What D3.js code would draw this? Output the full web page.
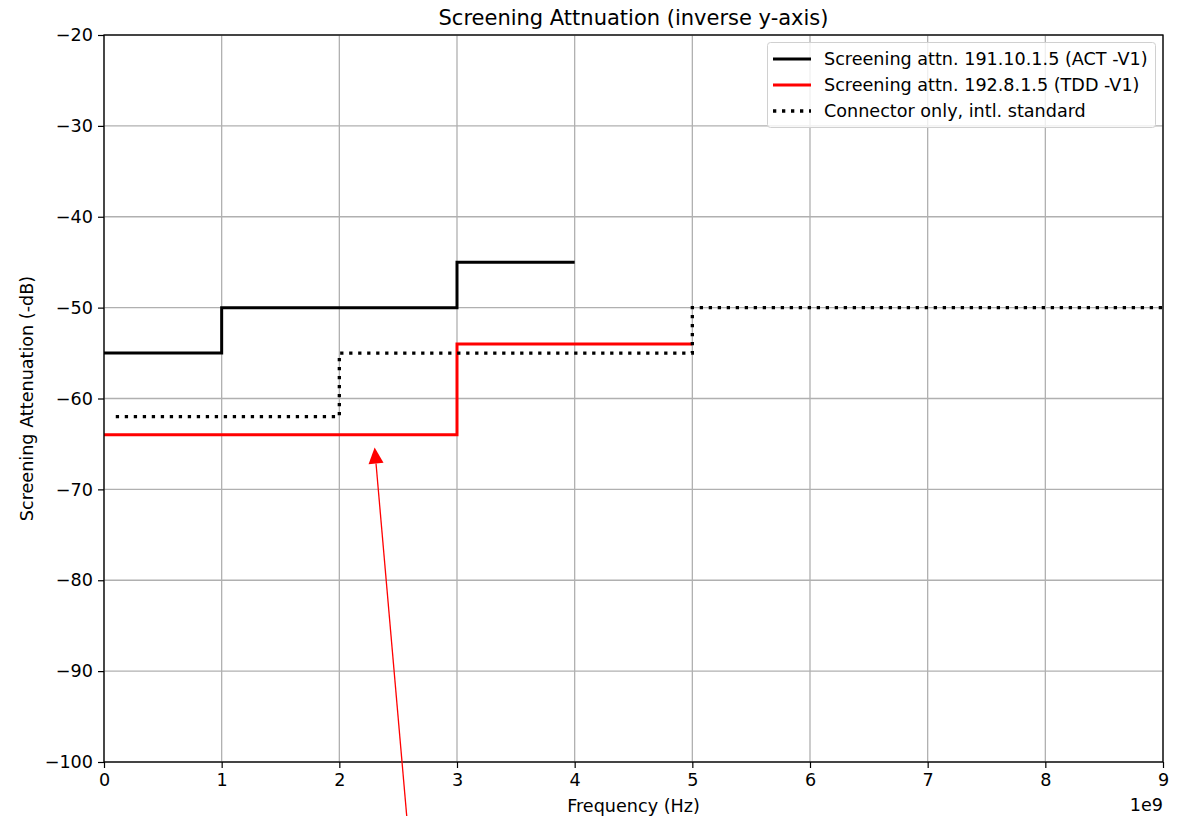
<!DOCTYPE html>
<html><head><meta charset="utf-8">
<script src="https://cdn.jsdelivr.net/npm/d3@7"></script>
<style>body{margin:0;background:#fff}svg{display:block;font-family:"DejaVu Sans",sans-serif}</style>
</head><body><svg id="c" width="1184" height="816"></svg>
<script>
const xTicks=[0,1e9,2e9,3e9,4e9,5e9,6e9,7e9,8e9,9e9];
const yTicks=[-20,-30,-40,-50,-60,-70,-80,-90,-100];
const actX=[0,1e9,3e9,4e9];
const actY=[-55,-50,-45,-45];
const tddX=[0,3e9,5e9];
const tddY=[-64,-54,-54];
const connX=[0.1e9,2e9,5e9,9e9];
const connY=[-62,-55,-50,-50];
const seriesNames=["Screening attn. 191.10.1.5 (ACT -V1)","Screening attn. 192.8.1.5 (TDD -V1)","Connector only, intl. standard"];
const arrowTip=[2.3e9,-65.4];
const arrowTail=[2.6e9,-110];

const FS=17.6;
const svg=d3.select("#c");
const L=104,R=1163,T=35,B=762;
const x=d3.scaleLinear().domain([0,9e9]).range([L,R]);
const y=d3.scaleLinear().domain([-100,-20]).range([B,T]);
const fmt=v=>String(v).replace("-","\u2212");

// grid
const g=svg.append("g");
g.selectAll(".gx").data(xTicks).join("line").attr("x1",d=>x(d)).attr("x2",d=>x(d)).attr("y1",T).attr("y2",B).attr("stroke","#b0b0b0").attr("stroke-width",1.3);
g.selectAll(".gy").data(yTicks).join("line").attr("y1",d=>y(d)).attr("y2",d=>y(d)).attr("x1",L).attr("x2",R).attr("stroke","#b0b0b0").attr("stroke-width",1.3);

// series
const defs=svg.append("defs");
defs.append("clipPath").attr("id","clip").append("rect").attr("x",L).attr("y",T).attr("width",R-L).attr("height",B-T);
const line=d3.line().x(d=>x(d[0])).y(d=>y(d[1])).curve(d3.curveStepAfter);
const sg=svg.append("g").attr("clip-path","url(#clip)");
sg.append("path").attr("d",line(d3.zip(actX,actY))).attr("fill","none").attr("stroke","#000").attr("stroke-width",3);
sg.append("path").attr("d",line(d3.zip(tddX,tddY))).attr("fill","none").attr("stroke","#ff0000").attr("stroke-width",3);
sg.append("path").attr("d",line(d3.zip(connX,connY))).attr("fill","none").attr("stroke","#000").attr("stroke-width",3.3).attr("stroke-dasharray","3.3,5.7");

// axes
const xa=svg.append("g").attr("transform",`translate(0,${B})`).call(d3.axisBottom(x).tickValues(xTicks).tickFormat(d=>d/1e9).tickSize(6).tickSizeOuter(0));
const ya=svg.append("g").attr("transform",`translate(${L},0)`).call(d3.axisLeft(y).tickValues(yTicks).tickFormat(fmt).tickSize(6).tickSizeOuter(0));
[xa,ya].forEach(a=>{a.attr("font-size",FS).attr("font-family","DejaVu Sans");a.selectAll("text").attr("fill","#000");a.selectAll("line").attr("stroke","#000").attr("stroke-width",1.2);a.select(".domain").remove();});
xa.selectAll("text").attr("dy","0.71em").attr("y",12);
ya.selectAll("text").attr("x",-11);
// spines
svg.append("rect").attr("x",L).attr("y",T).attr("width",R-L).attr("height",B-T).attr("fill","none").attr("stroke","#000").attr("stroke-width",1.3);

// labels
svg.append("text").attr("x",(L+R)/2).attr("y",25).attr("text-anchor","middle").attr("font-size",21).text("Screening Attnuation (inverse y-axis)");
svg.append("text").attr("x",(L+R)/2).attr("y",812).attr("text-anchor","middle").attr("font-size",FS).text("Frequency (Hz)");
svg.append("text").attr("x",R).attr("y",811).attr("text-anchor","end").attr("font-size",FS).text("1e9");
svg.append("text").attr("transform",`translate(33,${(T+B)/2}) rotate(-90)`).attr("text-anchor","middle").attr("font-size",FS).text("Screening Attenuation (-dB)");

// legend
const lg=svg.append("g");
lg.append("rect").attr("x",767.5).attr("y",42.5).attr("width",388).attr("height",85).attr("rx",3).attr("fill","#fff").attr("fill-opacity",0.8).attr("stroke","#d0d0d0");
const styles=[{c:"#000",d:null},{c:"#ff0000",d:null},{c:"#000",d:"3.3,5.7"}];
seriesNames.forEach((n,i)=>{
  const yy=59+i*26;
  const ln=lg.append("line").attr("x1",773).attr("x2",811).attr("y1",yy).attr("y2",yy).attr("stroke",styles[i].c).attr("stroke-width",3);
  if(styles[i].d) ln.attr("stroke-dasharray",styles[i].d).attr("stroke-width",3.3);
  lg.append("text").attr("x",824).attr("y",yy+6).attr("font-size",FS).text(n);
});

// annotation arrow
const tx=x(arrowTip[0]),ty=y(arrowTip[1]),ex=x(arrowTail[0]),ey=y(arrowTail[1]);
const ang=Math.atan2(ty-ey,tx-ex);
const hl=16,hw=7.5;
const bx=tx-hl*Math.cos(ang),by=ty-hl*Math.sin(ang);
svg.append("line").attr("x1",ex).attr("y1",ey).attr("x2",bx).attr("y2",by).attr("stroke","#ff0000").attr("stroke-width",1.3);
svg.append("path").attr("d",`M${tx},${ty}L${bx+hw*Math.sin(ang)},${by-hw*Math.cos(ang)}L${bx-hw*Math.sin(ang)},${by+hw*Math.cos(ang)}Z`).attr("fill","#ff0000");
</script></body></html>
